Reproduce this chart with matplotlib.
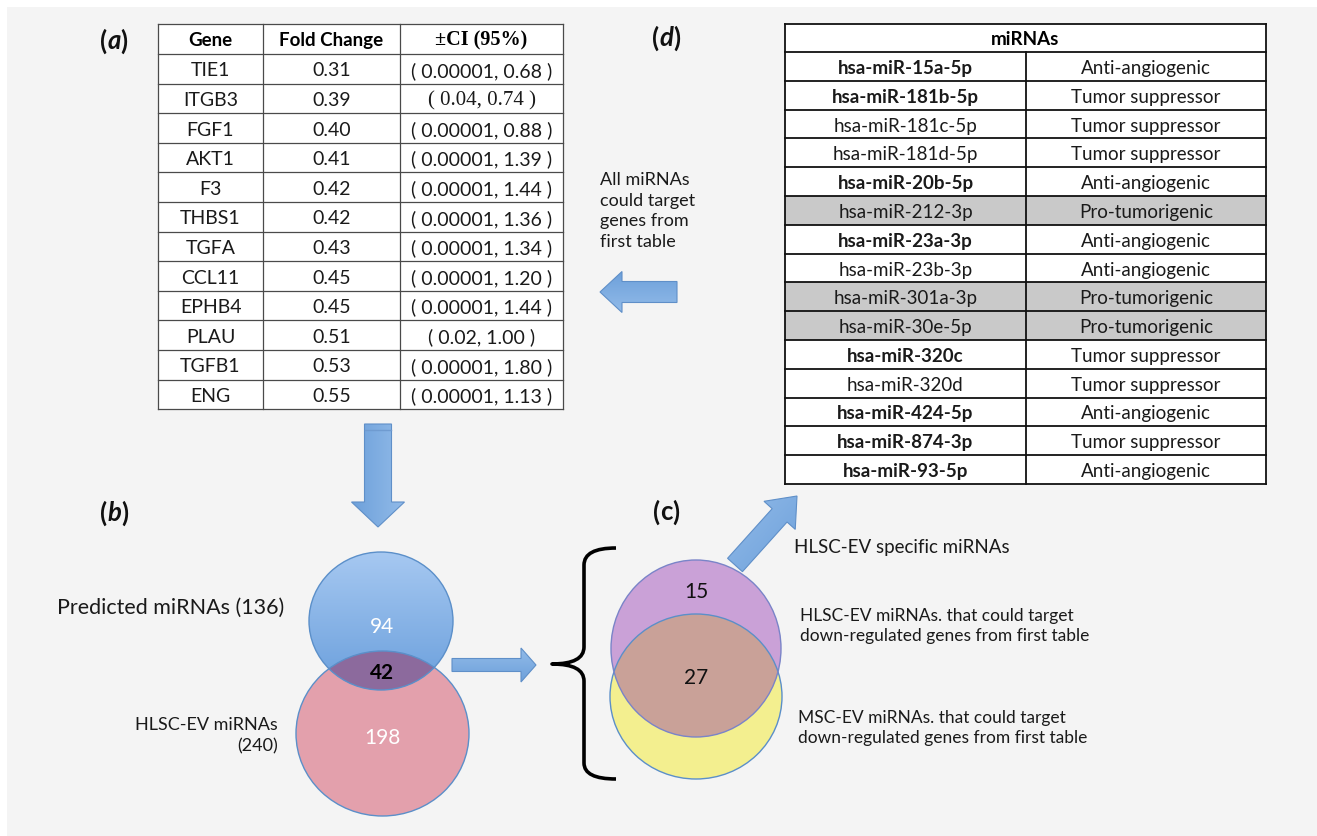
import numpy as np
import matplotlib
matplotlib.use("Agg")
import matplotlib.pyplot as plt
from matplotlib.patches import Ellipse, FancyArrow, Rectangle, PathPatch
from matplotlib.path import Path
from matplotlib.colors import LinearSegmentedColormap

# (a) down-regulated angiogenesis genes
genes = ["TIE1", "ITGB3", "FGF1", "AKT1", "F3", "THBS1", "TGFA",
         "CCL11", "EPHB4", "PLAU", "TGFB1", "ENG"]
fold_change = [0.31, 0.39, 0.40, 0.41, 0.42, 0.42, 0.43, 0.45, 0.45, 0.51, 0.53, 0.55]
ci_low = [0.00001, 0.04, 0.00001, 0.00001, 0.00001, 0.00001, 0.00001,
          0.00001, 0.00001, 0.02, 0.00001, 0.00001]
ci_high = [0.68, 0.74, 0.88, 1.39, 1.44, 1.36, 1.34, 1.20, 1.44, 1.00, 1.80, 1.13]
serif_rows = ["ITGB3"]

# (d) HLSC-EV specific miRNAs
mirnas = ["hsa-miR-15a-5p", "hsa-miR-181b-5p", "hsa-miR-181c-5p", "hsa-miR-181d-5p",
          "hsa-miR-20b-5p", "hsa-miR-212-3p", "hsa-miR-23a-3p", "hsa-miR-23b-3p",
          "hsa-miR-301a-3p", "hsa-miR-30e-5p", "hsa-miR-320c", "hsa-miR-320d",
          "hsa-miR-424-5p", "hsa-miR-874-3p", "hsa-miR-93-5p"]
mirna_roles = ["Anti-angiogenic", "Tumor suppressor", "Tumor suppressor", "Tumor suppressor",
               "Anti-angiogenic", "Pro-tumorigenic", "Anti-angiogenic", "Anti-angiogenic",
               "Pro-tumorigenic", "Pro-tumorigenic", "Tumor suppressor", "Tumor suppressor",
               "Anti-angiogenic", "Tumor suppressor", "Anti-angiogenic"]
mirna_bold = [True, True, False, False, True, False, True, False,
              False, False, True, False, True, True, True]

# (b) and (c) venn counts
predicted_total, hlsc_total = 136, 240
predicted_only, shared_b, hlsc_only = 94, 42, 198
hlsc_specific, shared_c = 15, 27

SANS = "Lato"
SERIF = "Liberation Serif"

fig = plt.figure(figsize=(13.17, 8.37), dpi=100)
ax = fig.add_axes([0, 0, 1, 1])
fig.patch.set_facecolor("white")
ax.add_patch(Rectangle((7, 8), 1310, 829, facecolor="#f4f4f4", edgecolor="none", zorder=0))


def shade(patch, bbox, direction, c0, c1, z):
    # paint a linear gradient inside a patch
    xmin, xmax, ymin, ymax = bbox
    xs = np.linspace(xmin, xmax, 120)
    ys = np.linspace(ymin, ymax, 120)
    X, Y = np.meshgrid(xs, ys)
    t = X * direction[0] + Y * direction[1]
    t = (t - t.min()) / (t.max() - t.min())
    cmap = LinearSegmentedColormap.from_list("grad", [c0, c1])
    im = ax.imshow(t, cmap=cmap, extent=(xmin, xmax, ymax, ymin), origin="upper",
                   aspect="auto", zorder=z, interpolation="bilinear")
    im.set_clip_path(patch)


def blue_arrow(x0, y0, x1, y1, width, head_width, head_length):
    arr = FancyArrow(x0, y0, x1 - x0, y1 - y0, width=width, head_width=head_width,
                     head_length=head_length, length_includes_head=True,
                     facecolor="none", edgecolor="#5f8fc8", lw=0.8, zorder=4)
    ax.add_patch(arr)
    dx, dy = x1 - x0, y1 - y0
    n = np.hypot(dx, dy)
    perp = (-dy / n, dx / n)
    pad = head_width
    bbox = (min(x0, x1) - pad, max(x0, x1) + pad, min(y0, y1) - pad, max(y0, y1) + pad)
    shade(arr, bbox, perp, "#a4c8f0", "#5b93d3", 3)
    return arr


def panel_label(x, y, letter, italic=True):
    r = fig.canvas.get_renderer()
    for s, st in [("(", "normal"), (letter, "italic" if italic else "normal"), (")", "normal")]:
        t = ax.text(x, y, s, fontsize=18.5, fontweight="bold", style=st, family=SANS,
                    ha="left", va="center", color="#111111", zorder=6)
        x += t.get_window_extent(renderer=r).width


# ---- table (a) ----
col_a = [158, 263, 400, 563]
rows_a = [25, 55] + [55 + 29.6 * (i + 1) for i in range(len(genes))]
ax.add_patch(Rectangle((col_a[0], rows_a[0]), col_a[-1] - col_a[0], rows_a[-1] - rows_a[0],
                       facecolor="white", edgecolor="none", zorder=1))
for y in rows_a:
    ax.plot([col_a[0], col_a[-1]], [y, y], color="#4a4a4a", lw=0.9, zorder=2)
for x in col_a:
    ax.plot([x, x], [rows_a[0], rows_a[-1]], color="#4a4a4a", lw=0.9, zorder=2)

cx_a = [(col_a[i] + col_a[i + 1]) / 2 for i in range(3)]
hy = (rows_a[0] + rows_a[1]) / 2
ax.text(cx_a[0], hy, "Gene", fontsize=13.5, fontweight="bold", family=SANS, ha="center", va="center")
ax.text(cx_a[1], hy, "Fold Change", fontsize=13.5, fontweight="bold", family=SANS, ha="center", va="center")
ax.text(cx_a[2], hy, "±CI (95%)", fontsize=14.5, fontweight="bold", family=SERIF, ha="center", va="center")
for i, g in enumerate(genes):
    y = (rows_a[i + 1] + rows_a[i + 2]) / 2 + 1
    ci = "( {}, {:.2f} )".format(np.format_float_positional(ci_low[i]), ci_high[i])
    ax.text(cx_a[0], y, g, fontsize=14, family=SANS, ha="center", va="center", color="#1a1a1a")
    ax.text(cx_a[1], y, "{:.2f}".format(fold_change[i]), fontsize=14, family=SANS,
            ha="center", va="center", color="#1a1a1a")
    if g in serif_rows:
        ax.text(cx_a[2], y, ci, fontsize=15, family=SERIF, ha="center", va="center", color="#1a1a1a")
    else:
        ax.text(cx_a[2], y, ci, fontsize=14, family=SANS, ha="center", va="center", color="#1a1a1a")

# ---- table (d) ----
col_d = [785, 1026, 1266]
rows_d = [25, 53] + [53 + 28.8 * (i + 1) for i in range(len(mirnas))]
ax.add_patch(Rectangle((col_d[0], rows_d[0]), col_d[-1] - col_d[0], rows_d[-1] - rows_d[0],
                       facecolor="white", edgecolor="none", zorder=1))
for i, role in enumerate(mirna_roles):
    if role == "Pro-tumorigenic":
        ax.add_patch(Rectangle((col_d[0], rows_d[i + 1]), col_d[-1] - col_d[0], 28.8,
                               facecolor="#c9c9c9", edgecolor="none", zorder=1.5))
for y in rows_d:
    ax.plot([col_d[0], col_d[-1]], [y, y], color="#111111", lw=1.3, zorder=2)
for x in [col_d[0], col_d[-1]]:
    ax.plot([x, x], [rows_d[0], rows_d[-1]], color="#111111", lw=1.3, zorder=2)
ax.plot([col_d[1], col_d[1]], [rows_d[1], rows_d[-1]], color="#111111", lw=1.3, zorder=2)

ax.text((col_d[0] + col_d[-1]) / 2, (rows_d[0] + rows_d[1]) / 2, "miRNAs", fontsize=13.5,
        fontweight="bold", family=SANS, ha="center", va="center")
for i, (m, role) in enumerate(zip(mirnas, mirna_roles)):
    y = (rows_d[i + 1] + rows_d[i + 2]) / 2 + 1
    ax.text((col_d[0] + col_d[1]) / 2, y, m, fontsize=13.5, family=SANS,
            fontweight="bold" if mirna_bold[i] else "normal", ha="center", va="center", color="#1a1a1a")
    ax.text((col_d[1] + col_d[2]) / 2, y, role, fontsize=13.5, family=SANS,
            ha="center", va="center", color="#1a1a1a")

# ---- labels and notes ----
panel_label(100, 41, "a")
panel_label(652, 38, "d")
panel_label(100, 513, "b")
panel_label(653, 512, "c", italic=False)

ax.text(600, 211, "All miRNAs\ncould target\ngenes from\nfirst table", fontsize=13, family=SANS,
        ha="left", va="center", linespacing=1.36, color="#1a1a1a")

# ---- arrows ----
blue_arrow(677, 293, 600, 293, 21, 41, 22)
blue_arrow(378, 425, 378, 528, 27, 53, 25)
ax.plot([365, 391], [431, 431], color="#6f9bd0", lw=1.0, zorder=5)
blue_arrow(452, 666, 536, 666, 13, 34, 15)
blue_arrow(735, 566, 797, 497, 20, 42, 26)

# ---- venn (b) ----
edge = "#5b8fc9"
pink = Ellipse((382.5, 734.5), 173, 165, facecolor="#e3a0ac", edgecolor="none", zorder=2)
ax.add_patch(pink)
blue = Ellipse((381, 622), 144, 138, facecolor="none", edgecolor="none", zorder=2)
ax.add_patch(blue)
shade(blue, (309, 453, 553, 691), (0, 1), "#a6c8f1", "#6a9fdc", 2.1)
overlap_b = Ellipse((382.5, 734.5), 173, 165, facecolor="#8c6a9d", edgecolor="none", zorder=2.2)
ax.add_patch(overlap_b)
overlap_b.set_clip_path(blue)
ax.add_patch(Ellipse((381, 622), 144, 138, facecolor="none", edgecolor=edge, lw=1.0, zorder=2.5))
ax.add_patch(Ellipse((382.5, 734.5), 173, 165, facecolor="none", edgecolor=edge, lw=1.0, zorder=2.5))

ax.text(382, 627, str(predicted_only), fontsize=15, family=SANS, color="white", ha="center", va="center", zorder=6)
ax.text(382, 673, str(shared_b), fontsize=15, family=SANS, fontweight="bold", color="black",
        ha="center", va="center", zorder=6)
ax.text(382, 738, str(hlsc_only), fontsize=15, family=SANS, color="white", ha="center", va="center", zorder=6)

ax.text(284, 608, "Predicted miRNAs ({})".format(predicted_total), fontsize=15.5, family=SANS,
        ha="right", va="center", color="#1a1a1a")
ax.text(278, 736, "HLSC-EV miRNAs\n({})".format(hlsc_total), fontsize=13, family=SANS,
        ha="right", va="center", multialignment="right", linespacing=1.4, color="#1a1a1a")

# ---- bracket ----
brace = Path([(616, 549), (584, 549), (584, 566), (584, 648), (584, 665), (552, 665),
              (584, 665), (584, 682), (584, 764), (584, 780), (616, 780)],
             [Path.MOVETO, Path.CURVE3, Path.CURVE3, Path.LINETO, Path.CURVE3, Path.CURVE3,
              Path.CURVE3, Path.CURVE3, Path.LINETO, Path.CURVE3, Path.CURVE3])
ax.add_patch(PathPatch(brace, facecolor="none", edgecolor="black", lw=2.6, zorder=4,
                       capstyle="butt", joinstyle="round"))

# ---- venn (c) ----
yellow = Ellipse((696, 697.5), 172, 165, facecolor="#f3ef8f", edgecolor="none", zorder=2)
purple = Ellipse((696, 649.5), 170, 177, facecolor="#caa1d7", edgecolor="none", zorder=2.1)
ax.add_patch(yellow)
ax.add_patch(purple)
overlap_c = Ellipse((696, 697.5), 172, 165, facecolor="#c9a198", edgecolor="none", zorder=2.2)
ax.add_patch(overlap_c)
overlap_c.set_clip_path(purple)
ax.add_patch(Ellipse((696, 697.5), 172, 165, facecolor="none", edgecolor=edge, lw=1.0, zorder=2.5))
ax.add_patch(Ellipse((696, 649.5), 170, 177, facecolor="none", edgecolor="#7a84c8", lw=1.0, zorder=2.5))

ax.text(696, 592, str(hlsc_specific), fontsize=15, family=SANS, color="#111111", ha="center", va="center", zorder=6)
ax.text(696, 678, str(shared_c), fontsize=15, family=SANS, color="#111111", ha="center", va="center", zorder=6)

ax.text(794, 547, "HLSC-EV specific miRNAs", fontsize=13.5, family=SANS, ha="left", va="center", color="#1a1a1a")
ax.text(800, 626, "HLSC-EV miRNAs. that could target\ndown-regulated genes from first table",
        fontsize=12.5, family=SANS, ha="left", va="center", linespacing=1.3, color="#1a1a1a")
ax.text(798, 728, "MSC-EV miRNAs. that could target\ndown-regulated genes from first table",
        fontsize=12.5, family=SANS, ha="left", va="center", linespacing=1.3, color="#1a1a1a")

ax.set_xlim(0, 1317)
ax.set_ylim(837, 0)
ax.axis("off")
fig.savefig("out.png", dpi=100, facecolor=fig.get_facecolor())
